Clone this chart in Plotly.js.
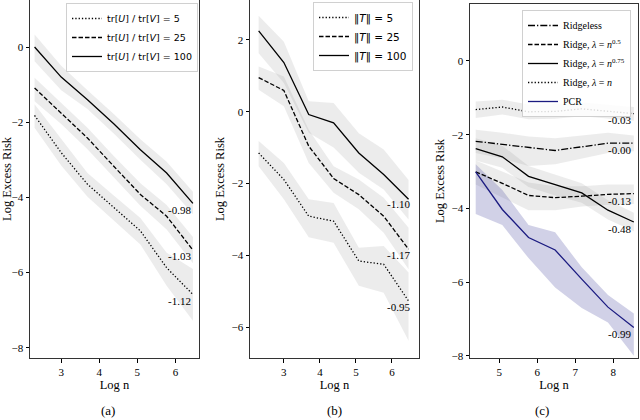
<!DOCTYPE html>
<html>
<head>
<meta charset="utf-8">
<script src="https://cdn.plot.ly/plotly-3.0.1.min.js"></script>
<style>html,body{margin:0;padding:0;background:#fff;}#chart{width:640px;height:420px;}</style>
</head>
<body>
<div id="chart"></div>
<script>
// ---------- Panel (a) ----------
const xA = [2.30, 3.00, 3.69, 4.38, 5.08, 5.77, 6.46];
const aName = ['tr[<i>U</i>] / tr[<i>V</i>] = 5', 'tr[<i>U</i>] / tr[<i>V</i>] = 25', 'tr[<i>U</i>] / tr[<i>V</i>] = 100'];
const a5   = [-1.82, -2.81, -3.65, -4.27, -4.89, -5.87, -6.58];
const a5hi = [-1.52, -2.45, -3.35, -3.95, -4.55, -5.47, -5.90];
const a5lo = [-2.15, -3.15, -3.98, -4.60, -5.25, -6.35, -7.28];
const a25   = [-1.09, -1.75, -2.42, -3.17, -3.92, -4.50, -5.40];
const a25hi = [-0.82, -1.50, -2.15, -2.90, -3.62, -4.20, -5.05];
const a25lo = [-1.44, -2.05, -2.72, -3.45, -4.22, -4.85, -5.75];
const a100   = [0.00, -0.80, -1.40, -2.04, -2.73, -3.35, -4.16];
const a100hi = [0.33, -0.50, -1.15, -1.78, -2.45, -3.05, -3.85];
const a100lo = [-0.38, -1.15, -1.65, -2.30, -3.00, -3.65, -4.45];
const aSlope = ['-0.98', '-1.03', '-1.12'];
const aSlopeY = [-4.33, -5.57, -6.75];

// ---------- Panel (b) ----------
const xB = [2.30, 3.00, 3.69, 4.38, 5.08, 5.77, 6.46];
const bName = ['‖<i>T</i>‖ = 5', '‖<i>T</i>‖ = 25', '‖<i>T</i>‖ = 100'];
const b5   = [-1.15, -1.89, -2.91, -3.05, -4.16, -4.25, -5.27];
const b5hi = [-0.82, -1.43, -2.44, -2.54, -3.79, -3.74, -4.48];
const b5lo = [-1.52, -2.44, -3.50, -3.65, -4.85, -5.04, -6.38];
const b25   = [0.95, 0.59, -0.96, -1.86, -2.31, -2.91, -3.83];
const b25hi = [1.26, 0.98, -0.50, -1.52, -1.89, -2.40, -3.23];
const b25lo = [0.61, 0.15, -1.43, -2.26, -2.72, -3.37, -4.39];
const b100   = [2.25, 1.37, -0.08, -0.31, -1.15, -1.75, -2.44];
const b100hi = [2.67, 1.95, 0.29, 0.24, -0.60, -1.05, -1.90];
const b100lo = [1.63, 0.80, -0.59, -1.00, -1.70, -2.17, -3.00];
const bSlope = ['-1.10', '-1.17', '-0.95'];
const bSlopeY = [-2.58, -4.00, -5.45];

// ---------- Panel (c) ----------
const xC = [4.38, 5.08, 5.77, 6.47, 7.17, 7.86, 8.54];
const cName = ['Ridgeless', 'Ridge, <i>λ</i> = <i>n</i><sup>0.5</sup>', 'Ridge, <i>λ</i> = <i>n</i><sup>0.75</sup>', 'Ridge, <i>λ</i> = <i>n</i>', 'PCR'];
const cRidgeless   = [-2.18, -2.27, -2.36, -2.43, -2.33, -2.23, -2.23];
const cRidgelessHi = [-1.87, -1.95, -2.05, -2.10, -2.02, -1.95, -2.02];
const cRidgelessLo = [-2.50, -2.65, -2.85, -2.80, -2.65, -2.50, -2.45];
const cR05   = [-3.01, -3.32, -3.65, -3.71, -3.67, -3.62, -3.60];
const cR05Hi = [-2.70, -3.00, -3.30, -3.40, -3.40, -3.35, -3.35];
const cR05Lo = [-3.35, -3.70, -4.05, -4.05, -3.95, -3.90, -3.88];
const cR075   = [-2.38, -2.60, -3.13, -3.35, -3.58, -4.05, -4.37];
const cR075Hi = [-2.10, -2.30, -2.85, -3.08, -3.32, -3.78, -4.12];
const cR075Lo = [-2.70, -2.90, -3.42, -3.65, -3.85, -4.30, -4.62];
const cRn   = [-1.32, -1.25, -1.38, -1.37, -1.30, -1.37, -1.43];
const cRnHi = [-1.10, -1.05, -1.18, -1.17, -1.12, -1.18, -1.25];
const cRnLo = [-1.55, -1.45, -1.58, -1.57, -1.50, -1.57, -1.62];
const cPCR   = [-3.01, -4.03, -4.79, -5.13, -5.92, -6.68, -7.23];
const cPCRHi = [-2.80, -3.50, -4.45, -4.65, -5.60, -6.35, -6.85];
const cPCRLo = [-4.15, -4.45, -5.35, -6.15, -6.70, -7.10, -8.00];
const cSlope = ['-0.03', '-0.00', '-0.13', '-0.48', '-0.99'];
const cSlopeY = [-1.59, -2.42, -3.80, -4.57, -7.41];

const serif = 'Liberation Serif, Times New Roman, serif';
const sans = 'DejaVu Sans, sans-serif';
const grey = 'rgba(140,140,140,0.17)';
const blueFill = 'rgba(90,90,170,0.28)';
const DOT = '1.3px,2px';
const DASH = '4.5px,2px';
const DASHDOT = '7px,2px,1.3px,2px';

const traces = [];
function band(x, hi, lo, xa, ya, color) {
  traces.push({
    x: x.concat(x.slice().reverse()),
    y: hi.concat(lo.slice().reverse()),
    xaxis: xa, yaxis: ya, type: 'scatter', mode: 'lines',
    fill: 'toself', fillcolor: color, line: {width: 0},
    showlegend: false, hoverinfo: 'skip'
  });
}
function line(x, y, xa, ya, name, dash, color, leg) {
  traces.push({
    x: x, y: y, xaxis: xa, yaxis: ya, type: 'scatter', mode: 'lines',
    name: name, legend: leg,
    line: {color: color, width: 1.3, dash: dash}
  });
}

// (a)
band(xA, a5hi, a5lo, 'x', 'y', grey);
band(xA, a25hi, a25lo, 'x', 'y', grey);
band(xA, a100hi, a100lo, 'x', 'y', grey);
line(xA, a5, 'x', 'y', aName[0], DOT, '#000', 'legend');
line(xA, a25, 'x', 'y', aName[1], DASH, '#000', 'legend');
line(xA, a100, 'x', 'y', aName[2], 'solid', '#000', 'legend');
// (b)
band(xB, b5hi, b5lo, 'x2', 'y2', grey);
band(xB, b25hi, b25lo, 'x2', 'y2', grey);
band(xB, b100hi, b100lo, 'x2', 'y2', grey);
line(xB, b5, 'x2', 'y2', bName[0], DOT, '#000', 'legend2');
line(xB, b25, 'x2', 'y2', bName[1], DASH, '#000', 'legend2');
line(xB, b100, 'x2', 'y2', bName[2], 'solid', '#000', 'legend2');
// (c)
band(xC, cRidgelessHi, cRidgelessLo, 'x3', 'y3', grey);
band(xC, cR05Hi, cR05Lo, 'x3', 'y3', grey);
band(xC, cR075Hi, cR075Lo, 'x3', 'y3', grey);
band(xC, cRnHi, cRnLo, 'x3', 'y3', grey);
band(xC, cPCRHi, cPCRLo, 'x3', 'y3', blueFill);
line(xC, cRidgeless, 'x3', 'y3', cName[0], DASHDOT, '#000', 'legend3');
line(xC, cR05, 'x3', 'y3', cName[1], DASH, '#000', 'legend3');
line(xC, cR075, 'x3', 'y3', cName[2], 'solid', '#000', 'legend3');
line(xC, cRn, 'x3', 'y3', cName[3], DOT, '#000', 'legend3');
line(xC, cPCR, 'x3', 'y3', cName[4], 'solid', '#1a1a80', 'legend3');

const annotations = [];
function slopes(labels, ys, xPos, xa, ya) {
  labels.forEach((t, i) => annotations.push({
    text: t, x: xPos, y: ys[i], xref: xa, yref: ya, showarrow: false,
    font: {family: serif, size: 11, color: '#000'}
  }));
}
slopes(aSlope, aSlopeY, 6.12, 'x', 'y');
slopes(bSlope, bSlopeY, 6.17, 'x2', 'y2');
slopes(cSlope, cSlopeY, 8.15, 'x3', 'y3');
[['(a)', 99], ['(b)', 334], ['(c)', 551]].forEach(c => annotations.push({
  text: c[0], x: c[1] / 640, y: 1 - 410 / 420, xref: 'paper', yref: 'paper',
  showarrow: false, yanchor: 'middle', font: {family: serif, size: 13, color: '#000'}
}));

function xax(domain, range, tickvals) {
  return {
    domain: domain, range: range, tickvals: tickvals, ticks: 'outside', ticklen: 3.5,
    tickcolor: '#000', showline: true, mirror: true, linecolor: '#333', linewidth: 1,
    showgrid: false, zeroline: false, tickfont: {family: serif, size: 11, color: '#000'},
    title: {text: 'Log n', font: {family: serif, size: 12.5, color: '#000'}, standoff: 1},
    automargin: false, fixedrange: true
  };
}
function yax(domain, range, tickvals, anchor) {
  return {
    domain: domain, range: range, tickvals: tickvals, ticktext: tickvals.map(v => v < 0 ? '−' + (-v) : String(v)),
    ticks: 'outside', ticklen: 3.5, anchor: anchor,
    tickcolor: '#000', showline: true, mirror: true, linecolor: '#333', linewidth: 1,
    showgrid: false, zeroline: false, tickfont: {family: serif, size: 11, color: '#000'},
    title: {text: 'Log Excess Risk', font: {family: serif, size: 12.5, color: '#000'}, standoff: 4},
    automargin: false, fixedrange: true
  };
}
const yd = [1 - 358 / 420, 1];
const ydc = [1 - 358 / 420, 1 - 4 / 420];
const layout = {
  width: 640, height: 420, margin: {l: 0, r: 0, t: 0, b: 0},
  paper_bgcolor: '#fff', plot_bgcolor: '#fff', showlegend: true,
  xaxis: Object.assign(xax([30 / 640, 199 / 640], [2.18, 6.62], [3, 4, 5, 6]), {anchor: 'y'}),
  yaxis: yax(yd, [-8.27, 1.25], [0, -2, -4, -6, -8], 'x'),
  xaxis2: Object.assign(xax([250 / 640, 419 / 640], [2.06, 6.75], [3, 4, 5, 6]), {anchor: 'y2'}),
  yaxis2: yax(yd, [-6.86, 3.11], [2, 0, -2, -4, -6], 'x2'),
  xaxis3: Object.assign(xax([470 / 640, 638 / 640], [4.23, 8.65], [5, 6, 7, 8]), {anchor: 'y3'}),
  yaxis3: yax(ydc, [-8.06, 1.545], [0, -2, -4, -6, -8], 'x3'),
  legend: {x: 198 / 640, y: 1 - 3 / 420, xanchor: 'right', yanchor: 'top', bgcolor: 'rgba(255,255,255,0.85)',
    bordercolor: '#d0d0d0', borderwidth: 1, font: {family: sans, size: 9.5, color: '#000'}, itemwidth: 30, tracegroupgap: 0},
  legend2: {x: 413 / 640, y: 1 - 2 / 420, xanchor: 'right', yanchor: 'top', bgcolor: 'rgba(255,255,255,0.85)',
    bordercolor: '#d0d0d0', borderwidth: 1, font: {family: sans, size: 10.5, color: '#000'}, itemwidth: 30, tracegroupgap: 0},
  legend3: {x: 631 / 640, y: 1 - 10 / 420, xanchor: 'right', yanchor: 'top', bgcolor: 'rgba(255,255,255,0.85)',
    bordercolor: '#d0d0d0', borderwidth: 1, font: {family: serif, size: 10, color: '#000'}, itemwidth: 30, tracegroupgap: 0},
  annotations: annotations
};
Plotly.newPlot('chart', traces, layout, {displayModeBar: false, staticPlot: true});
</script>
</body>
</html>
